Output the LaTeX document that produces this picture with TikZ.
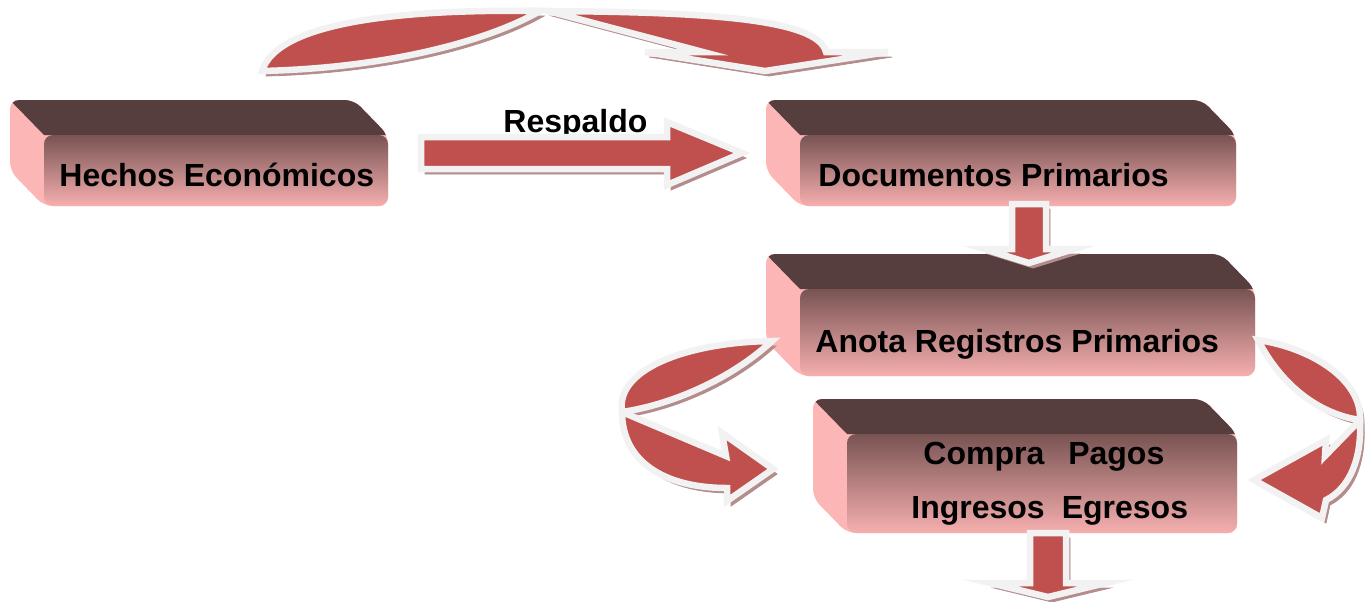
\documentclass[tikz,border=0pt]{standalone}
\usepackage{fontspec}
\setmainfont{Liberation Sans}

\definecolor{arrowred}{HTML}{C0504D}
\definecolor{rimgray}{HTML}{F2F2F2}
\definecolor{shadowpink}{HTML}{B48C8C}
\definecolor{topbrown}{HTML}{563E3E}
\definecolor{sidepink}{HTML}{FCB6B6}
\definecolor{frontdark}{HTML}{795353}
\definecolor{frontpink}{HTML}{F6AFAF}

\begin{document}
\begin{tikzpicture}[x=.5pt, y=-.5pt,
   arrowbody/.style={fill=arrowred, draw=rimgray, line width=3.25pt, line join=miter,
      preaction={fill=shadowpink, draw=shadowpink, transform canvas={xshift=2pt, yshift=-2.5pt}}},
   boxtext/.style={anchor=base west, inner sep=0pt, font=\bfseries\fontsize{16}{19}\selectfont}]
\useasboundingbox (0,0) rectangle (1370,601);
% bevel boxes
\foreach \x/\y/\w/\h in {10/100/344/71, 766/100/436/71, 766/254/455/87, 813/399/390/99}
{
   \begin{scope}
   \path[clip, rounded corners=4.5pt] (\x,\y) -- ++(\w,0) -- ++(34,35) -- ++(0,\h) -- ++(-\w,0) -- ++(-34,-35) -- cycle;
   \fill[sidepink] (\x-5,\y-5) rectangle ++(\w+50,\h+50);
   \fill[topbrown] (\x-5,\y-5) -- (\x+34,\y+35) -- ++(\w+10,0) -- ++(0,-45) -- cycle;
   \end{scope}
   \shade[top color=frontdark, bottom color=frontpink, rounded corners=4.5pt] (\x+34,\y+35) rectangle ++(\w,\h);
}
\node[boxtext] (hechos) at (59,186) {Hechos Económicos};
\node[boxtext] (respaldo) at (503,132) {Respaldo};
\node[boxtext] (documentos) at (818,186) {Documentos Primarios};
\node[boxtext] (anota) at (815,352) {Anota Registros Primarios};
\node[boxtext] (compra) at (923,464) {Compra\hspace{12pt}Pagos};
\node[boxtext] (ingresos) at (911,518) {Ingresos\hspace{8.5pt}Egresos};
% curved arrow over the top
\path[arrowbody] (262,71) .. controls (278,20) and (410,9) .. (540,11) .. controls (490,40) and (390,68) .. cycle;
\path[arrowbody] (548,11) .. controls (700,12) and (818,18) .. (826,52) -- (888,52) -- (765,71) -- (645,52) -- (703,52) -- cycle;
% straight and down arrows
\path[arrowbody] (421,137) -- (667,137) -- (667,122) -- (742,153) -- (667,185) -- (667,169) -- (421,169) -- cycle;
\path[arrowbody] (1012,204) -- (1046,204) -- (1046,249) -- (1074,249) -- (1029,263) -- (984,249) -- (1012,249) -- cycle;
\path[arrowbody] (1030,533) -- (1066,533) -- (1066,583) -- (1106,583) -- (1048,597) -- (990,583) -- (1030,583) -- cycle;
% left curved arrow
\path[arrowbody] (772,341) .. controls (690,342) and (615,368) .. (622,412) .. controls (670,405) and (730,380) .. cycle;
\path[arrowbody] (622,412) -- (726,456) -- (722,433) -- (773,469) -- (727,501) -- (727,488) .. controls (665,488) and (622,462) .. cycle;
% right curved arrow
\path[arrowbody] (1258,340) .. controls (1312,348) and (1362,380) .. (1360,420) .. controls (1325,415) and (1285,392) .. cycle;
\path[arrowbody] (1360,420) -- (1325,456) -- (1326,440) -- (1254,480) -- (1322,518) -- (1326,500) .. controls (1350,488) and (1362,458) .. cycle;
\end{tikzpicture}
\end{document}
